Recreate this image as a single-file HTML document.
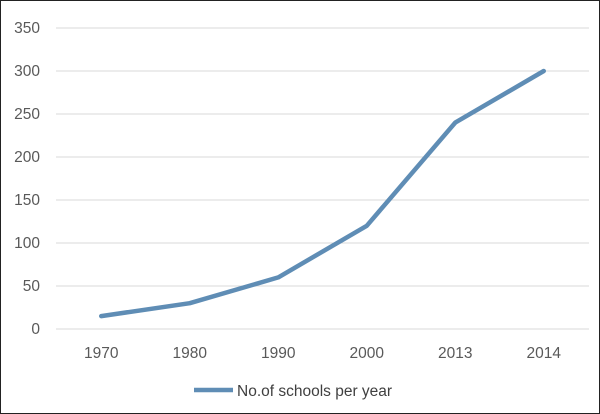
<!DOCTYPE html>
<html><head><style>
body{margin:0;background:#fff}
svg{display:block;font-family:"Liberation Sans",sans-serif}
</style></head><body>
<svg width="600" height="414">
<rect x="0.5" y="0.5" width="599" height="413" fill="#fff" stroke="#222"/>
<g id="grid"></g><g id="yt"></g><g id="xt"></g><g id="series"></g>
<g>
<line x1="194" y1="390" x2="233" y2="390" stroke="#5f8db5" stroke-width="4.5"/>
<text x="237" y="396" font-size="15.5" fill="#404040">No.of schools per year</text>
</g>
</svg>
<script>
const categories=["1970","1980","1990","2000","2013","2014"];
const values=[15,30,60,120,240,300];
const yTicks=[0,50,100,150,200,250,300,350];
const ns="http://www.w3.org/2000/svg";
const x0=57,bw=88.5,yBase=329,yPer=43/50;
const X=i=>x0+bw*(i+0.5), Y=v=>yBase-v*yPer;
function mk(t,a,p){const e=document.createElementNS(ns,t);for(const k in a)e.setAttribute(k,a[k]);p.appendChild(e);return e;}
const g=document.getElementById('grid'),yt=document.getElementById('yt'),xt=document.getElementById('xt'),s=document.getElementById('series');
yTicks.forEach(v=>{
 const l=mk('line',{x1:56,x2:589,y1:Y(v),y2:Y(v),stroke:'#d9d9d9','stroke-width':1},g);
 
 
 const t=mk('text',{x:40,y:Y(v)+5,'text-anchor':'end','font-size':15.5,fill:'#595959'},yt);
 t.textContent=v;
 
 
});
categories.forEach((c,i)=>{
 const t=mk('text',{x:X(i),y:358,'text-anchor':'middle','font-size':15.5,fill:'#595959'},xt);
 t.textContent=c;
 
 
});
const p=mk('polyline',{points:values.map((v,i)=>X(i)+','+Y(v)).join(' '),fill:'none',stroke:'#5f8db5','stroke-width':4.5,'stroke-linejoin':'round','stroke-linecap':'round'},s);


</script>
</body></html>
